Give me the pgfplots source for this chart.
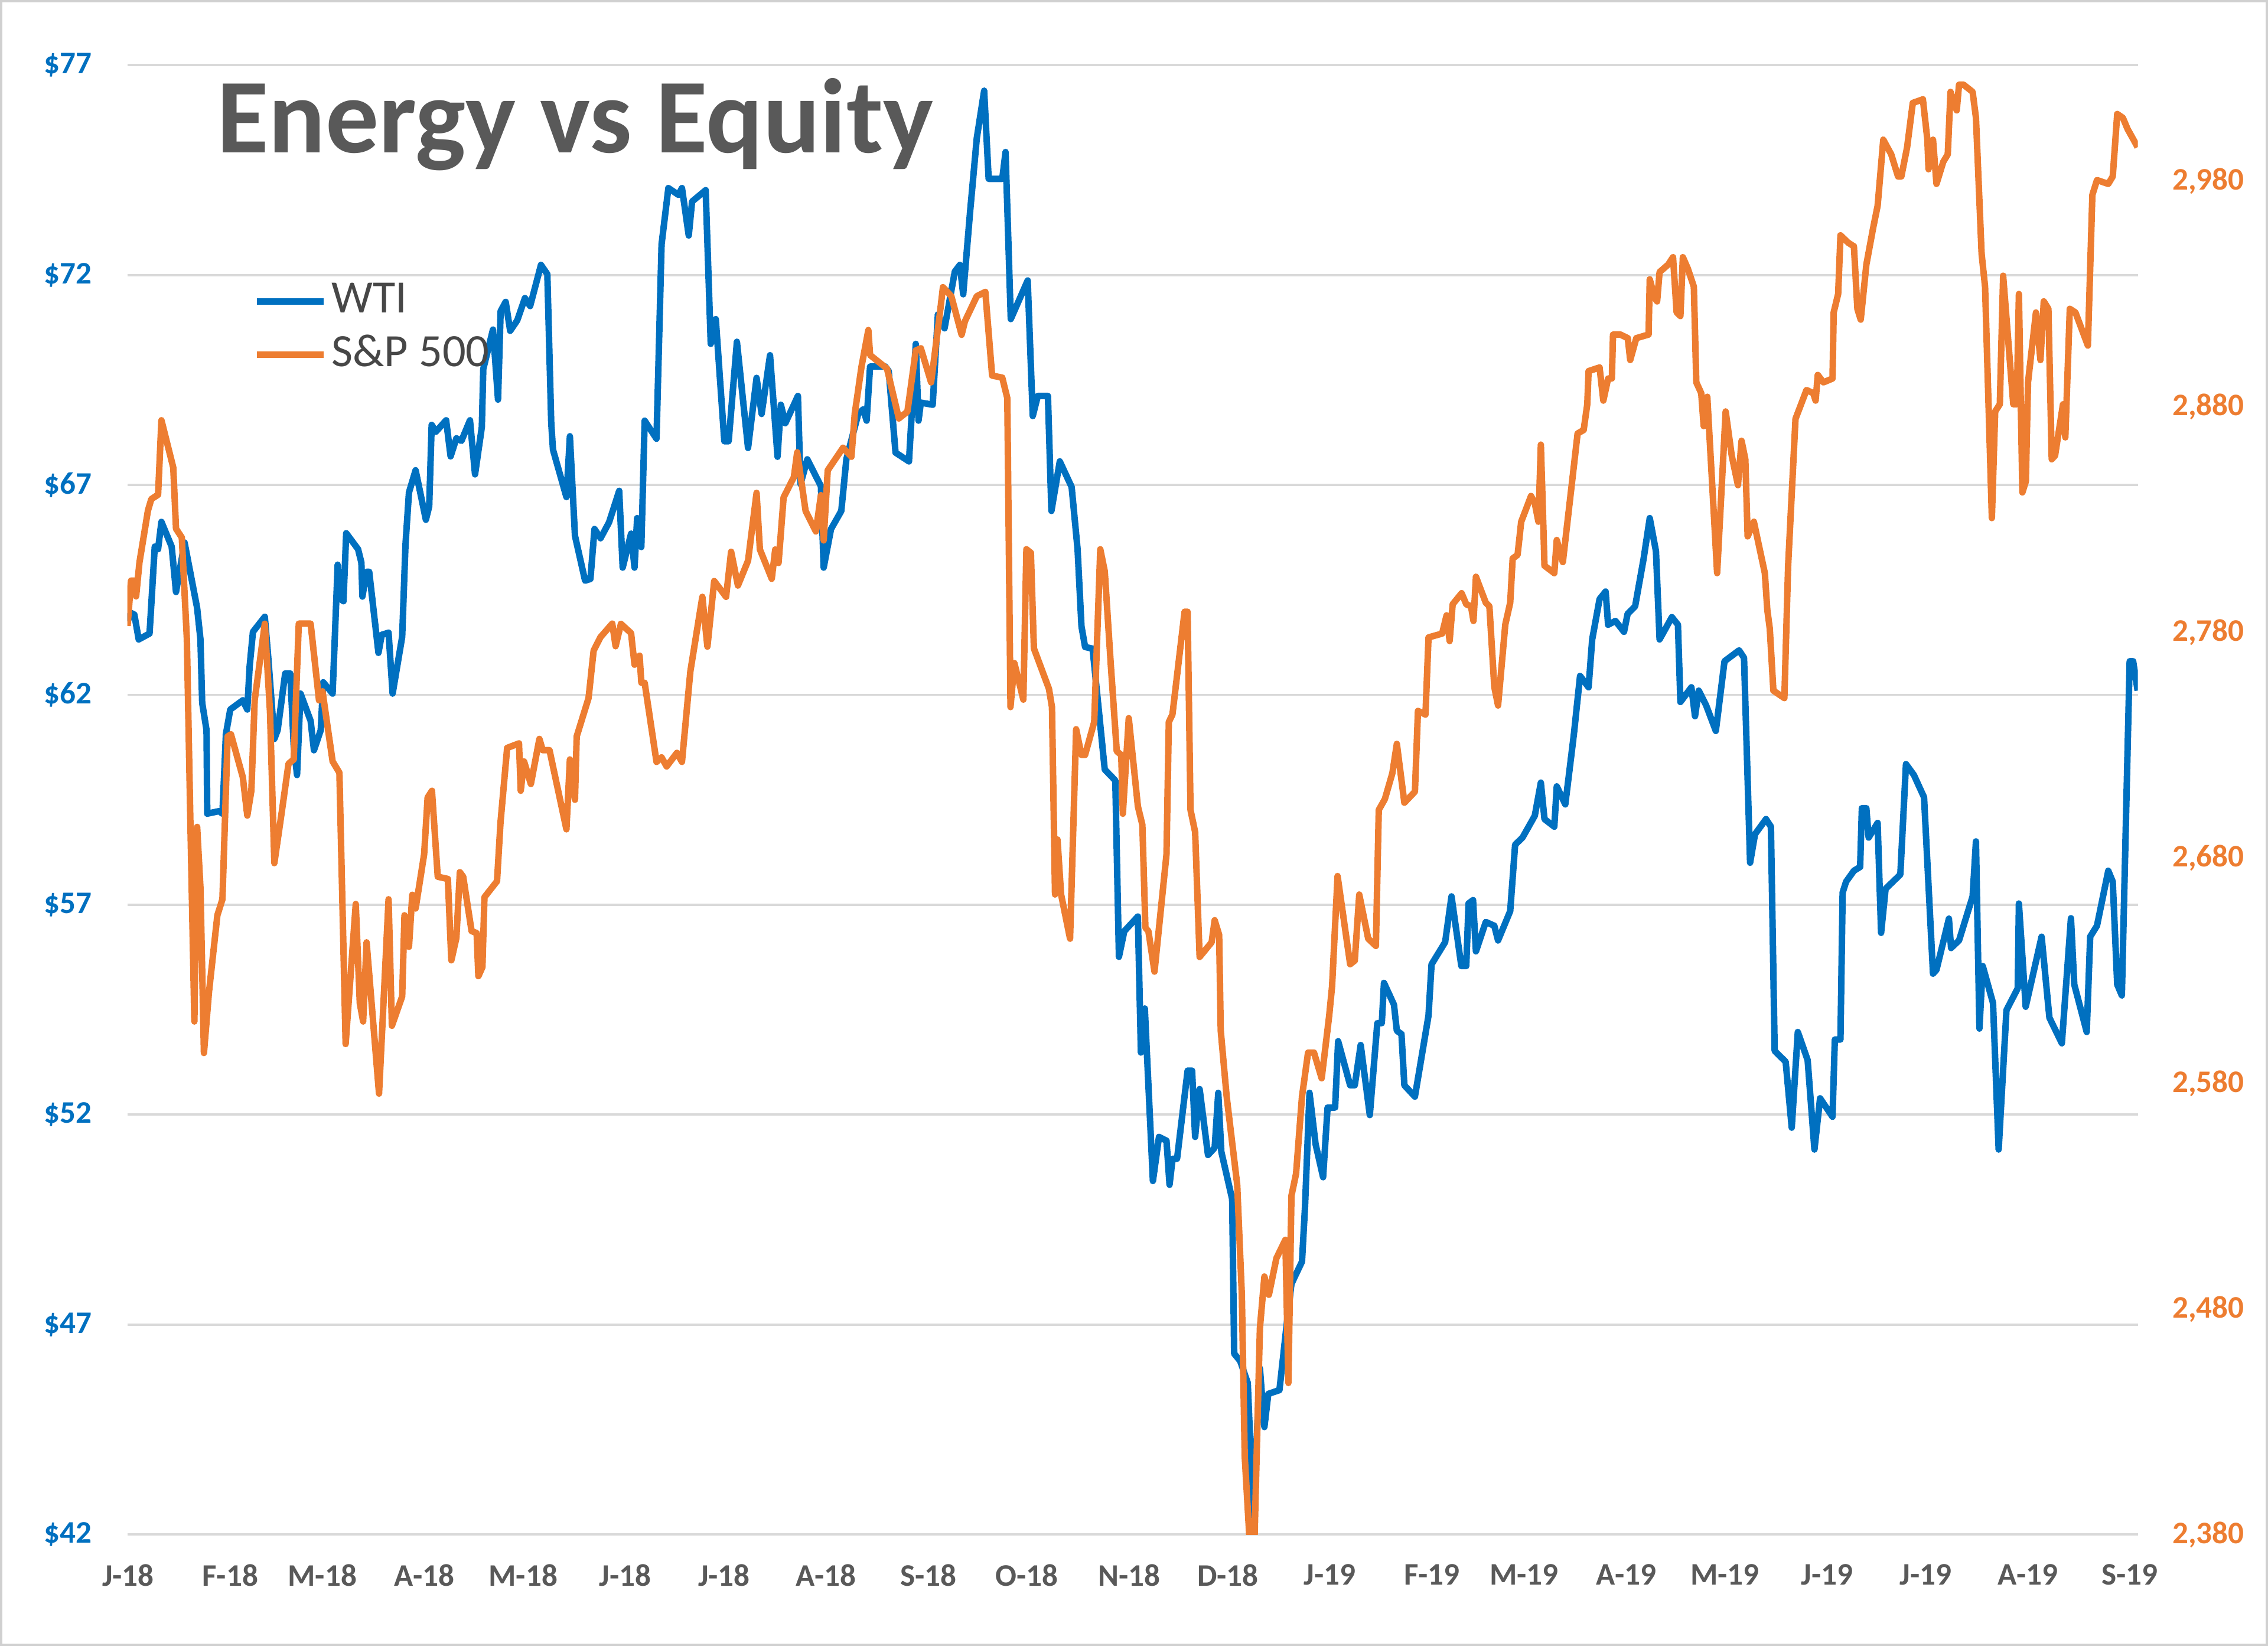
\documentclass[border=0pt]{standalone}
\usepackage{pgfplots}
\pgfplotsset{compat=1.18}
\usepackage{fontspec}
\setmainfont{Carlito}
\definecolor{wti}{HTML}{0070C0}
\definecolor{spx}{HTML}{ED7D31}
\definecolor{txtgray}{HTML}{595959}
\definecolor{leggray}{HTML}{474747}
\definecolor{gridgray}{HTML}{D9D9D9}
\definecolor{framegray}{HTML}{D0D0D0}
\begin{document}
\begin{tikzpicture}
\path[use as bounding box] (-0.898cm,-0.786cm) rectangle (15.102cm,10.826cm);
\pgfplotsset{
  common/.style={
    at={(0,0)}, anchor=south west, scale only axis,
    width=14.184cm, height=10.367cm,
    xmin=88, xmax=1478.5,
    axis line style={draw=none},
    major tick length=0pt,
    scaled x ticks=false, scaled y ticks=false,
    tick label style={font=\fontsize{6.3}{7}\selectfont\bfseries, inner sep=0pt},
  }
}
\begin{axis}[common,
  ymin=42, ymax=77,
  ytick={42,47,52,57,62,67,72,77},
  yticklabels={\$42,\$47,\$52,\$57,\$62,\$67,\$72,\$77},
  yticklabel style={text=wti, xshift=-0.245cm},
  xtick={88.6,159.2,222.9,293.5,361.8,432.4,500.7,571.3,641.9,710.2,780.8,849.1,919.7,990.3,1054.0,1124.6,1192.9,1263.5,1331.8,1402.4,1473.0},
  xticklabels={J-18,F-18,M-18,A-18,M-18,J-18,J-18,A-18,S-18,O-18,N-18,D-18,J-19,F-19,M-19,A-19,M-19,J-19,J-19,A-19,S-19},
  xticklabel style={text=txtgray, yshift=-0.203cm},
  ymajorgrids, grid style={gridgray, line width=0.45pt},
  legend style={draw=none, fill=none, at={(axis description cs:0.0625,0.8207)}, anchor=west,
    inner xsep=0pt, inner ysep=0pt, font=\fontsize{9.3}{11}\selectfont, text=leggray,
    nodes={inner sep=1pt, text depth=0.15em}, row sep=1pt, column sep=0pt},
  legend cell align=left,
  legend image code/.code={\draw[#1] (0cm,0cm) -- (0.467cm,0cm);},
]
\addplot[wti, line width=1.3pt, line join=round] table {
x y
88.2 63.75
90.6 63.95
92.9 63.91
95.9 63.32
103.4 63.46
107.0 65.53
109.3 65.47
111.6 66.12
118.7 65.53
121.7 64.45
127.6 65.63
136.3 64.07
138.6 63.32
139.8 61.81
142.8 61.16
143.3 59.17
151.5 59.23
153.8 59.17
156.2 61.06
159.2 61.65
167.9 61.87
171.0 61.65
172.6 62.67
174.9 63.50
183.1 63.86
185.5 62.89
189.7 60.95
192.0 61.16
197.2 62.51
200.7 62.51
203.1 60.79
205.4 60.09
207.8 62.03
214.8 61.38
217.1 60.68
221.8 61.16
223.5 62.30
230.0 62.03
233.5 65.10
235.2 64.29
237.5 64.23
239.4 65.85
247.6 65.47
249.9 65.15
250.6 64.34
253.5 64.93
255.3 64.93
261.7 63.00
264.0 63.43
268.7 63.48
271.5 62.03
278.1 63.38
280.4 65.58
282.8 66.82
287.4 67.35
294.5 66.17
296.8 66.49
298.5 68.43
301.5 68.27
308.5 68.54
311.6 67.68
315.6 68.11
319.1 68.05
325.0 68.54
328.5 67.25
333.2 68.38
334.2 69.76
340.9 70.70
344.4 69.03
346.2 71.14
349.7 71.36
352.8 70.67
357.7 70.92
363.0 71.45
366.6 71.26
374.1 72.24
378.5 72.02
381.2 68.47
382.4 67.84
391.7 66.71
394.1 68.16
397.6 65.79
404.6 64.72
408.3 64.76
411.1 65.95
415.3 65.73
421.2 66.11
428.2 66.86
430.6 65.03
436.4 65.84
438.8 65.03
440.6 66.21
443.5 65.52
445.8 68.53
454.0 68.10
457.5 72.73
462.2 74.07
469.2 73.91
471.6 74.07
476.3 72.94
478.6 73.75
488.0 74.02
491.5 70.36
495.0 70.95
500.9 68.04
503.9 68.04
509.6 70.41
517.3 67.88
523.2 69.55
526.7 68.69
532.5 70.09
537.7 67.67
540.0 68.91
543.1 68.47
551.8 69.12
553.6 67.02
558.3 67.61
567.7 66.97
569.6 65.03
574.7 65.95
581.8 66.38
585.3 67.61
593.5 68.69
597.0 68.80
599.3 68.53
601.7 69.82
612.2 69.82
614.6 69.71
619.3 67.77
628.6 67.56
633.3 70.36
635.2 68.53
636.8 68.96
645.0 68.91
648.6 71.06
653.2 70.73
660.3 72.08
663.8 72.24
666.1 71.54
670.8 73.48
675.5 75.26
680.6 76.39
683.7 74.29
693.1 74.29
695.4 74.93
699.0 70.95
710.7 71.87
714.2 68.64
717.7 69.12
724.7 69.12
727.1 66.38
732.9 67.56
741.1 66.95
745.2 65.47
747.9 63.63
750.4 63.14
755.6 63.10
764.0 60.22
771.3 59.96
773.8 55.76
777.5 56.37
786.9 56.72
789.0 53.48
791.7 54.53
797.3 50.42
801.5 51.47
806.7 51.38
808.8 50.33
810.9 50.95
814.0 50.95
821.3 53.05
824.4 53.05
826.5 51.47
829.6 52.61
835.4 51.04
840.0 51.21
842.5 52.52
844.6 51.12
852.1 49.99
853.5 46.31
857.7 46.13
862.9 45.61
866.7 42.46
871.3 45.96
874.4 44.56
877.1 45.35
884.8 45.44
889.0 46.75
893.1 47.97
900.4 48.50
902.5 49.81
905.6 52.52
909.8 51.30
915.0 50.51
918.1 52.17
923.3 52.17
925.4 53.75
933.7 52.70
936.9 52.70
941.0 53.66
947.3 51.99
952.5 54.18
955.6 54.18
957.1 55.14
964.0 54.62
966.0 54.00
969.2 53.92
971.2 52.70
978.5 52.43
987.9 54.36
990.0 55.58
999.4 56.11
1003.8 57.20
1010.6 55.54
1014.0 55.54
1015.6 57.03
1018.7 57.11
1020.7 55.89
1027.5 56.59
1033.4 56.50
1036.0 56.15
1044.4 56.85
1047.8 58.43
1052.9 58.60
1061.4 59.12
1065.6 59.91
1068.1 59.04
1074.9 58.86
1076.6 59.82
1082.5 59.39
1088.4 61.05
1092.7 62.45
1098.6 62.18
1101.1 63.32
1106.2 64.28
1110.4 64.46
1112.1 63.67
1117.2 63.76
1123.1 63.50
1125.6 63.93
1130.8 64.11
1136.7 65.25
1140.9 66.21
1145.2 65.42
1147.7 63.32
1156.2 63.85
1160.4 63.67
1162.1 61.83
1169.7 62.18
1172.2 61.49
1174.8 62.10
1179.9 61.75
1186.6 61.14
1192.6 62.80
1202.7 63.06
1206.1 62.88
1210.3 58.00
1213.7 58.68
1221.3 59.04
1224.7 58.86
1227.3 53.52
1234.9 53.26
1239.1 51.69
1243.3 53.97
1250.1 53.30
1254.8 51.17
1258.7 52.39
1267.3 51.95
1268.9 53.79
1272.8 53.79
1274.3 57.29
1276.7 57.55
1282.1 57.81
1286.4 57.90
1287.6 59.30
1290.7 59.30
1292.3 58.60
1298.5 58.95
1300.9 56.33
1304.0 57.38
1314.2 57.72
1318.1 60.35
1323.6 60.09
1330.6 59.56
1336.8 55.36
1339.2 55.45
1347.8 56.67
1349.3 55.97
1354.8 56.15
1364.2 57.20
1366.5 58.51
1368.9 54.05
1371.2 55.54
1378.3 54.66
1382.2 51.17
1387.6 54.49
1395.4 55.01
1396.2 57.03
1400.9 54.57
1411.9 56.24
1417.3 54.31
1425.9 53.70
1432.2 56.68
1434.5 55.10
1443.1 53.97
1445.5 56.24
1450.2 56.50
1458.0 57.81
1461.1 57.55
1464.2 55.10
1467.4 54.84
1472.8 62.80
1475.2 62.80
1478.3 62.10
};
\addlegendentry{WTI}
\addlegendimage{spx, line width=1.3pt}
\addlegendentry{S\&P 500}
\node[anchor=base west, inner sep=0pt, text=txtgray, font=\fontsize{21.3}{24}\selectfont\bfseries]
  at (axis description cs:0.0440,0.9405) {Energy vs Equity};
\end{axis}
\begin{axis}[common,
  ymin=2380, ymax=3031.6,
  axis y line*=right, axis x line=none,
  ytick={2380,2480,2580,2680,2780,2880,2980},
  yticklabels={{2,380},{2,480},{2,580},{2,680},{2,780},{2,880},{2,980}},
  yticklabel style={text=spx, xshift=0.236cm},
]
\addplot[spx, line width=1.3pt, line join=round] table {
x y
88.2 2782.9
90.6 2803.0
92.9 2803.0
94.1 2796.0
96.4 2811.0
102.3 2834.1
104.6 2839.1
109.3 2841.1
111.6 2874.1
119.8 2853.1
121.7 2826.0
125.7 2822.1
129.2 2777.0
131.6 2696.8
134.4 2607.5
136.3 2693.8
138.6 2666.7
141.0 2593.5
144.5 2620.6
150.3 2654.6
153.8 2661.7
157.4 2733.9
159.7 2734.8
167.9 2715.8
171.0 2698.8
173.8 2709.8
176.1 2749.9
183.1 2783.9
186.7 2744.8
189.7 2677.7
194.9 2700.7
199.5 2721.8
203.1 2723.7
206.6 2783.9
214.8 2783.9
220.6 2749.9
223.0 2753.9
230.0 2722.8
234.7 2717.8
239.0 2597.5
246.0 2659.6
248.8 2615.6
251.1 2607.5
253.5 2642.6
262.1 2575.5
268.7 2661.7
271.0 2605.6
278.1 2618.6
279.7 2654.6
282.8 2640.6
285.1 2663.7
287.4 2657.6
293.3 2681.7
295.7 2706.8
298.7 2709.8
302.7 2671.7
309.7 2670.7
312.1 2634.6
315.6 2644.6
318.0 2673.7
320.3 2671.7
326.1 2647.6
329.6 2646.7
330.8 2627.6
333.6 2631.6
335.0 2662.6
343.7 2669.7
346.1 2695.7
350.7 2728.8
358.9 2730.8
360.1 2709.8
362.4 2722.8
367.1 2712.8
373.0 2732.8
375.3 2727.8
380.0 2727.8
391.7 2692.7
394.1 2723.7
397.6 2705.8
398.8 2733.9
407.0 2750.9
410.5 2771.9
415.2 2777.9
423.4 2783.9
425.7 2773.9
429.4 2783.8
436.4 2779.7
438.8 2765.7
442.3 2769.7
443.5 2757.7
445.8 2757.7
454.0 2722.6
457.5 2724.6
461.0 2720.6
468.1 2726.6
471.6 2722.6
477.4 2762.7
485.7 2795.8
489.2 2773.7
493.9 2802.8
502.1 2795.8
505.6 2815.8
510.3 2800.8
517.3 2811.8
523.2 2841.9
525.5 2816.8
533.7 2803.8
536.1 2816.8
538.4 2810.8
541.9 2839.9
549.0 2848.9
551.3 2859.9
557.1 2833.9
564.2 2824.8
567.7 2840.9
569.6 2820.8
572.4 2851.9
583.0 2861.9
588.8 2857.9
591.1 2877.0
595.8 2898.0
600.5 2914.1
601.7 2903.0
613.4 2897.0
621.6 2874.9
627.5 2877.9
633.3 2905.0
636.8 2906.0
643.9 2890.9
649.7 2920.1
652.1 2933.1
657.9 2929.1
665.0 2912.0
667.3 2918.0
675.5 2929.1
681.4 2931.0
686.1 2893.9
693.1 2893.0
696.6 2883.9
698.8 2746.9
701.5 2766.4
707.7 2750.2
709.8 2816.9
712.9 2815.3
715.0 2772.9
725.4 2755.0
727.5 2746.9
729.6 2663.8
731.3 2688.2
733.8 2663.8
740.0 2644.2
744.2 2737.1
747.9 2725.7
750.4 2725.7
756.7 2740.3
760.9 2816.9
764.0 2807.1
768.1 2766.4
772.3 2727.3
775.4 2725.7
776.5 2699.6
780.6 2742.0
786.9 2702.9
790.0 2694.7
792.1 2649.1
794.2 2647.5
798.4 2629.6
806.7 2681.7
808.3 2740.3
810.8 2743.6
819.2 2789.2
821.3 2789.2
823.3 2701.3
826.5 2691.5
829.6 2636.1
833.8 2639.4
837.9 2642.6
840.0 2652.4
843.1 2645.9
844.2 2603.5
848.3 2574.2
855.6 2535.1
858.8 2486.3
860.8 2414.6
866.5 2351.1
871.3 2471.6
874.4 2494.4
877.5 2486.3
882.7 2502.5
888.9 2510.7
891.0 2447.2
893.1 2530.2
896.3 2540.0
900.4 2574.2
904.6 2593.7
908.7 2593.7
914.0 2582.3
919.2 2610.0
921.2 2623.1
925.0 2672.0
933.7 2632.9
936.9 2634.5
940.0 2663.8
946.2 2644.2
951.5 2641.0
953.5 2701.3
957.7 2706.1
962.9 2717.6
966.0 2730.6
971.2 2704.5
978.5 2709.4
980.6 2745.2
985.8 2743.6
987.9 2777.8
997.3 2779.5
1000.4 2787.6
1002.5 2776.2
1004.6 2792.5
1010.8 2797.4
1014.0 2792.5
1017.3 2791.6
1019.0 2785.1
1020.7 2804.7
1027.5 2793.2
1030.0 2791.6
1033.4 2755.8
1036.0 2747.6
1041.0 2783.5
1044.4 2793.2
1046.1 2812.8
1049.5 2814.4
1052.0 2829.1
1058.8 2840.5
1061.4 2837.3
1063.9 2829.1
1065.6 2863.3
1067.3 2827.5
1068.1 2809.6
1074.9 2806.3
1076.6 2821.0
1080.8 2811.2
1091.0 2868.2
1095.2 2869.8
1097.7 2881.2
1098.6 2895.9
1106.2 2897.5
1108.8 2882.8
1112.1 2892.6
1114.7 2892.6
1115.5 2912.1
1120.6 2912.1
1125.7 2910.5
1127.4 2900.8
1131.6 2910.5
1140.1 2912.1
1140.9 2936.6
1144.3 2928.4
1146.0 2926.8
1147.7 2939.8
1153.6 2943.1
1157.0 2946.4
1159.5 2921.9
1162.1 2920.3
1163.8 2946.4
1167.2 2941.4
1171.4 2933.3
1173.1 2890.9
1176.5 2886.1
1178.2 2871.5
1180.7 2884.5
1187.5 2806.3
1193.4 2878.0
1197.6 2858.4
1201.9 2845.3
1204.4 2865.0
1207.0 2856.8
1208.6 2822.6
1212.9 2829.1
1220.5 2806.3
1222.2 2790.0
1223.9 2781.8
1226.4 2754.2
1234.0 2750.9
1236.6 2809.6
1241.7 2874.7
1249.3 2887.5
1254.0 2886.1
1255.6 2882.8
1257.1 2894.2
1261.0 2890.9
1267.3 2892.6
1268.1 2921.9
1271.2 2930.1
1272.8 2956.1
1278.2 2952.8
1282.1 2951.2
1284.5 2923.5
1286.8 2918.7
1290.7 2943.1
1295.4 2959.4
1298.5 2969.2
1302.4 2998.5
1307.9 2992.0
1312.6 2982.2
1314.9 2982.2
1318.9 2995.2
1322.8 3014.8
1329.8 3016.4
1332.9 2998.5
1333.7 2985.4
1336.8 2998.5
1339.2 2978.9
1343.9 2988.7
1347.0 2992.0
1348.9 3019.7
1353.2 3011.5
1354.8 3022.9
1357.9 3022.9
1364.2 3019.7
1366.5 3008.2
1370.4 2948.0
1372.8 2933.3
1377.5 2830.7
1379.8 2878.0
1383.0 2881.2
1385.3 2938.2
1392.3 2881.2
1394.7 2881.2
1396.2 2930.1
1398.6 2842.1
1401.0 2847.0
1402.5 2890.9
1408.0 2921.9
1411.1 2900.8
1413.4 2926.8
1416.6 2923.5
1418.9 2856.8
1421.2 2858.4
1426.7 2881.2
1428.3 2866.5
1431.4 2923.5
1435.3 2921.9
1443.9 2907.2
1447.0 2974.0
1450.2 2980.6
1458.0 2978.9
1461.1 2982.2
1464.2 3009.9
1468.1 3008.2
1471.3 3003.3
1478.3 2995.2
};
\end{axis}
\draw[framegray, line width=0.5pt] (-0.898cm+0.25pt,-0.786cm+0.25pt) rectangle (15.102cm-0.25pt,10.826cm-0.25pt);
\end{tikzpicture}
\end{document}
